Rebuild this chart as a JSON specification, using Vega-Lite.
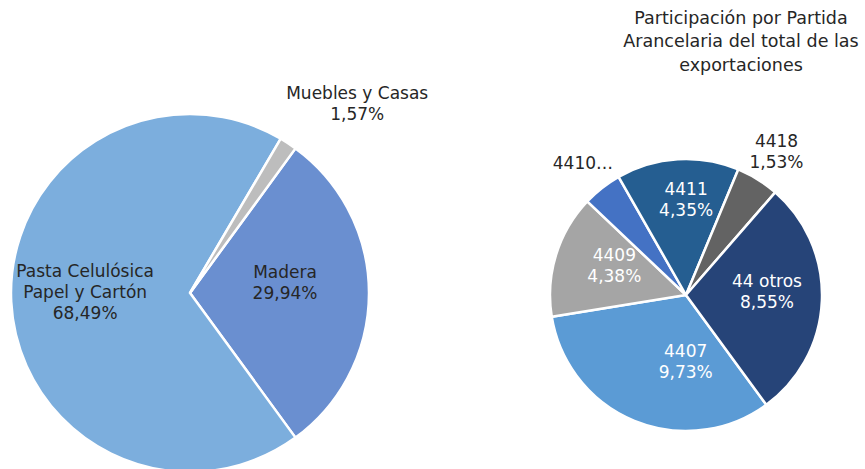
{
  "$schema": "https://vega.github.io/schema/vega-lite/v6.json",
  "width": 865,
  "height": 469,
  "autosize": "none",
  "padding": 0,
  "background": "white",
  "config": {"view": {"stroke": null}, "font": "DejaVu Sans"},
  "title": {
    "text": ["Participación por Partida", "Arancelaria del total de las", "exportaciones"],
    "anchor": "end",
    "align": "center",
    "baseline": "top",
    "dx": -124,
    "dy": 78,
    "fontSize": 17.5,
    "fontWeight": "normal",
    "color": "#262626",
    "lineHeight": 23.5
  },
  "datasets": {
    "total": [
      {"pie": "Total", "categoria": "Madera", "share": 29.94, "orden": 1},
      {"pie": "Total", "categoria": "Pasta Celulósica Papel y Cartón", "share": 68.49, "orden": 2},
      {"pie": "Total", "categoria": "Muebles y Casas", "share": 1.57, "orden": 3}
    ],
    "madera": [
      {"pie": "Madera", "categoria": "4407", "share": 9.73, "orden": 1},
      {"pie": "Madera", "categoria": "4409", "share": 4.38, "orden": 2},
      {"pie": "Madera", "categoria": "4410", "share": 1.40, "orden": 3},
      {"pie": "Madera", "categoria": "4411", "share": 4.35, "orden": 4},
      {"pie": "Madera", "categoria": "4418", "share": 1.53, "orden": 5},
      {"pie": "Madera", "categoria": "44 otros", "share": 8.55, "orden": 6}
    ]
  },
  "encoding": {
    "x": {"field": "pie", "type": "nominal", "scale": {"type": "point", "padding": 0, "domain": ["Total", "Madera"], "range": [190, 686]}, "axis": null},
    "y": {"field": "pie", "type": "nominal", "scale": {"type": "point", "padding": 0, "domain": ["Total", "Madera"], "range": [293, 295]}, "axis": null}
  },
  "layer": [
    {
      "data": {"name": "total"},
      "transform": [
        {"stack": "share", "groupby": [], "sort": [{"field": "orden", "order": "ascending"}], "as": ["t0", "t1"]},
        {"calculate": "(datum.t0 + datum.t1) / 2", "as": "tmid"},
        {"calculate": "replace(format(datum.share, '.2f'), '.', ',') + '%'", "as": "pct"}
      ],
      "encoding": {
        "theta": {"field": "t0", "type": "quantitative", "stack": null, "scale": {"domain": [0, 100], "range": [0.63024, 6.91343], "nice": false, "zero": true}}
      },
      "layer": [
        {
          "mark": {"type": "arc", "radius": 179, "stroke": "white", "strokeWidth": 2.5},
          "encoding": {
            "theta2": {"field": "t1"},
            "color": {
              "field": "categoria", "type": "nominal", "legend": null,
              "scale": {
                "domain": ["Pasta Celulósica Papel y Cartón", "Madera", "Muebles y Casas", "4407", "4409", "4410", "4411", "4418", "44 otros"],
                "range": ["#7CAEDD", "#6A8FD0", "#BDBDBD", "#5B9BD5", "#A5A5A5", "#4472C4", "#255E91", "#636363", "#264478"]
              }
            }
          }
        },
        {
          "transform": [
            {"filter": "datum.categoria == 'Pasta Celulósica Papel y Cartón'"},
            {"calculate": "replace(datum.categoria, ' Papel', '\\nPapel') + '\\n' + datum.pct", "as": "lineas"}
          ],
          "mark": {"type": "text", "radius": 105, "dy": -26, "fontSize": 17, "lineHeight": 21, "lineBreak": "\n", "color": "#262626", "align": "center", "baseline": "middle"},
          "encoding": {"theta": {"field": "tmid", "type": "quantitative", "stack": null}, "text": {"field": "lineas"}}
        },
        {
          "transform": [
            {"filter": "datum.categoria == 'Madera'"},
            {"calculate": "datum.categoria + '\\n' + datum.pct", "as": "lineas"}
          ],
          "mark": {"type": "text", "radius": 95, "dy": -20, "fontSize": 17, "lineHeight": 21, "lineBreak": "\n", "color": "#262626", "align": "center", "baseline": "middle"},
          "encoding": {"theta": {"field": "tmid", "type": "quantitative", "stack": null}, "text": {"field": "lineas"}}
        },
        {
          "transform": [
            {"filter": "datum.categoria == 'Muebles y Casas'"},
            {"calculate": "datum.categoria + '\\n' + datum.pct", "as": "lineas"}
          ],
          "mark": {"type": "text", "radius": 230, "dx": 41, "dy": -7, "fontSize": 17, "lineHeight": 21, "lineBreak": "\n", "color": "#262626", "align": "center", "baseline": "middle"},
          "encoding": {"theta": {"field": "tmid", "type": "quantitative", "stack": null}, "text": {"field": "lineas"}}
        }
      ]
    },
    {
      "data": {"name": "madera"},
      "transform": [
        {"stack": "share", "groupby": [], "sort": [{"field": "orden", "order": "ascending"}], "as": ["t0", "t1"]},
        {"calculate": "(datum.t0 + datum.t1) / 2", "as": "tmid"},
        {"calculate": "replace(format(datum.share, '.2f'), '.', ',') + '%'", "as": "pct"},
        {"calculate": "datum.categoria + '\\n' + datum.pct", "as": "lineas"}
      ],
      "encoding": {
        "theta": {"field": "t0", "type": "quantitative", "stack": null, "scale": {"domain": [0, 29.94], "range": [2.50979, 8.79298], "nice": false, "zero": true}}
      },
      "layer": [
        {
          "mark": {"type": "arc", "radius": 136, "stroke": "white", "strokeWidth": 2.5},
          "encoding": {"theta2": {"field": "t1"}, "color": {"field": "categoria", "type": "nominal", "legend": null}}
        },
        {
          "transform": [{"filter": "datum.categoria == '4407'"}],
          "mark": {"type": "text", "radius": 72, "dx": 27, "dy": -10, "fontSize": 17, "lineHeight": 21, "lineBreak": "\n", "color": "white", "align": "center", "baseline": "middle"},
          "encoding": {"theta": {"field": "tmid", "type": "quantitative", "stack": null}, "text": {"field": "lineas"}}
        },
        {
          "transform": [{"filter": "datum.categoria == '4409'"}],
          "mark": {"type": "text", "radius": 75, "dy": -17, "fontSize": 17, "lineHeight": 21, "lineBreak": "\n", "color": "white", "align": "center", "baseline": "middle"},
          "encoding": {"theta": {"field": "tmid", "type": "quantitative", "stack": null}, "text": {"field": "lineas"}}
        },
        {
          "transform": [{"filter": "datum.categoria == '4410'"}, {"calculate": "datum.categoria + '…'", "as": "corto"}],
          "mark": {"type": "text", "radius": 167, "fontSize": 17, "color": "#262626", "align": "center", "baseline": "middle"},
          "encoding": {"theta": {"field": "tmid", "type": "quantitative", "stack": null}, "text": {"field": "corto"}}
        },
        {
          "transform": [{"filter": "datum.categoria == '4411'"}],
          "mark": {"type": "text", "radius": 95, "dx": 6, "dy": -10, "fontSize": 17, "lineHeight": 21, "lineBreak": "\n", "color": "white", "align": "center", "baseline": "middle"},
          "encoding": {"theta": {"field": "tmid", "type": "quantitative", "stack": null}, "text": {"field": "lineas"}}
        },
        {
          "transform": [{"filter": "datum.categoria == '4418'"}],
          "mark": {"type": "text", "radius": 168, "dx": 2, "dy": -10, "fontSize": 17, "lineHeight": 21, "lineBreak": "\n", "color": "#262626", "align": "center", "baseline": "middle"},
          "encoding": {"theta": {"field": "tmid", "type": "quantitative", "stack": null}, "text": {"field": "lineas"}}
        },
        {
          "transform": [{"filter": "datum.categoria == '44 otros'"}],
          "mark": {"type": "text", "radius": 81, "dy": -16, "fontSize": 17, "lineHeight": 21, "lineBreak": "\n", "color": "white", "align": "center", "baseline": "middle"},
          "encoding": {"theta": {"field": "tmid", "type": "quantitative", "stack": null}, "text": {"field": "lineas"}}
        }
      ]
    }
  ],
  "resolve": {"scale": {"theta": "independent"}}
}
